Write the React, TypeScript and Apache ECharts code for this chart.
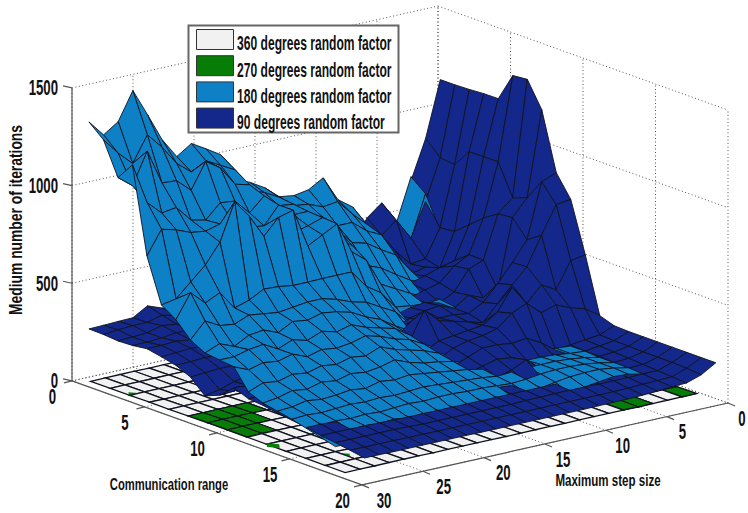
import React, { useEffect, useRef } from "react";
import * as echarts from "echarts";

const rangeValues = [1,2,3,4,5,6,7,8,9,10,11,12,13,14,15,16,17,18,19,20];
const lightRangeValues = [1,2,3,4,5,6,7,8,9,10,11,12,13,14,15,16,17,18];
const stepValues = [1,2.2,3.4,4.6,5.8,7,8.2,9.4,10.6,11.8,13,14.2,15.4,16.6,17.8,19,20.2,21.4,22.6,23.8,25,26.2,27.4,28.6,29.8];
const floorRangeValues = [0.7,2.05,3.4,4.75,6.1,7.45,8.8,10.15,11.5,12.85,14.2,15.55,16.9,18.25];
const floorStepValues = [0.5,1.7,2.9,4.1,5.3,6.5,7.7,8.9,10.1,11.3,12.5,13.7,14.9,16.1,17.3,18.5,19.7,20.9,22.1,23.3,24.5,25.7,26.9,28.1,29.3];

const medianTicks = [0,500,1000,1500];
const rangeTicks = [0,5,10,15,20];
const stepTicks = [0,5,10,15,20,25,30];

const names = ["360 degrees random factor","270 degrees random factor","180 degrees random factor","90 degrees random factor"];

const z180 = [
[500,640,700,480,380,480,613,667,795,751,738,749,812,856,887,1031,1078,1122,1072,1175,1320,1460,1318,1267,1350],
[420,500,640,420,360,440,550,620,700,690,720,730,790,830,860,980,1020,1060,1020,1080,1180,1260,1130,1200,1285],
[350,420,480,330,340,390,523,560,620,620,680,700,780,790,800,930,950,1050,1100,969,1035,1041,1220,1060,1118],
[300,360,420,320,310,350,446,490,540,560,640,680,770,770,760,900,830,907,915,843,860,941,930,1000,1210],
[260,300,340,300,290,310,344,390,440,470,590,640,765,740,720,880,790,800,830,850,830,840,870,890,770],
[230,260,300,280,260,280,282,320,360,400,540,600,760,720,680,880,860,780,900,990,800,700,630,560,546],
[210,230,250,260,250,250,300,290,300,310,400,450,540,540,540,538,538,549,553,513,490,585,549,618,497],
[200,210,220,225,230,230,290,250,240,250,330,370,412,430,460,480,480,470,460,470,480,450,460,500,420],
[190,195,200,205,210,215,200,210,220,220,260,300,350,380,420,440,450,430,440,400,430,420,380,410,380],
[180,185,190,195,200,205,205,210,205,210,240,280,330,350,370,400,380,400,370,390,360,400,390,370,371],
[175,180,180,185,190,195,195,200,200,200,220,260,300,320,350,370,350,340,350,330,360,340,350,330,362],
[170,175,175,180,185,185,190,190,190,190,210,240,270,290,310,340,310,320,300,310,290,300,280,290,260],
[165,165,170,170,175,180,185,185,185,185,200,225,240,250,270,300,280,270,280,260,270,250,260,240,230],
[155,160,165,170,175,185,190,190,190,185,195,210,220,230,240,250,240,250,230,240,230,225,235,220,215],
[150,155,160,165,180,190,195,195,195,190,185,195,200,205,210,215,210,205,210,205,210,205,200,205,200],
[145,150,155,165,180,190,195,195,190,180,175,180,185,185,190,190,185,190,185,180,185,180,185,180,180],
[140,145,150,165,180,190,190,185,175,160,155,155,160,155,160,155,160,165,160,170,165,170,165,165,160],
[130,135,140,160,175,180,170,160,145,140,140,140,135,135,140,135,140,140,140,135,140,135,140,140,140],
];

const z90 = [
[1164,880,680,420,600,540,420,380,350,330,320,310,300,300,300,300,300,300,305,313,341,297,295,292,290],
[1164,807,600,430,538,477,390,350,330,310,300,300,300,300,300,300,300,300,300,300,320,300,300,295,288],
[1167,798,492,350,340,420,360,330,310,300,290,290,290,290,290,290,290,290,290,295,300,310,290,285,282],
[1172,891,500,330,350,330,340,310,300,290,280,280,280,280,280,280,280,280,285,290,300,300,290,285,285],
[1173,892,560,393,375,350,330,300,290,270,270,270,270,270,270,270,270,275,280,285,290,290,300,295,295],
[1318,893,622,451,410,340,320,300,290,270,260,260,255,255,255,255,260,265,270,275,280,285,290,285,280],
[1325,735,670,450,420,320,280,300,290,270,250,250,250,250,250,250,250,250,250,255,260,265,270,265,263],
[1196,762,677,323,300,330,280,310,300,280,250,240,240,240,240,240,240,240,240,240,240,240,240,235,230],
[900,870,590,490,400,320,280,290,290,290,300,240,235,235,235,230,230,230,225,225,220,215,200,175,160],
[790,780,640,495,420,340,260,280,300,320,390,250,230,230,225,225,225,220,220,215,215,210,205,195,190],
[533,520,387,430,350,450,341,290,280,270,260,220,220,215,215,215,210,210,210,210,225,235,245,250,255],
[248,300,321,354,330,395,361,300,280,270,250,210,205,205,205,200,200,200,200,205,210,215,220,225,225],
[223,193,185,175,165,220,260,250,260,260,230,200,195,190,190,190,190,190,190,195,200,205,210,215,218],
[220,190,180,170,168,170,180,190,220,230,210,190,185,180,180,180,180,180,180,185,190,195,200,205,205],
[220,188,175,170,168,165,170,175,236,200,180,175,178,175,175,175,175,175,175,180,185,190,190,195,195],
[220,186,170,165,165,165,165,170,175,170,165,170,172,170,170,170,170,170,170,172,175,178,180,185,185],
[220,185,165,163,160,160,160,165,165,165,165,165,165,165,165,165,165,165,165,165,168,170,170,170,170],
[220,185,160,160,158,158,158,160,160,160,158,158,155,155,155,155,155,155,155,158,160,160,160,160,160],
[220,182,155,152,150,147,146,145,145,145,145,145,145,145,145,145,145,145,145,146,146,147,147,147,148],
[220,175,150,148,142,138,135,135,134,133,133,133,133,133,133,133,133,134,134,134,134,134,134,135,135],
];

const z360 = [
[8,8,7,8,8,9,8,7,8,8,7,8,8,9,8,8,7,8,8,8,7,8,8,7,6],
[8,7,8,8,7,8,8,8,9,8,8,8,7,8,8,9,8,8,7,8,8,8,7,8,7],
[7,8,8,9,8,8,7,8,8,8,9,8,8,8,7,8,8,8,9,8,8,7,8,8,7],
[8,8,7,8,8,8,8,9,8,7,8,8,8,8,9,8,7,8,8,8,9,8,8,7,8],
[8,9,8,8,7,8,8,8,8,8,7,8,9,8,8,8,8,8,7,8,8,8,8,8,7],
[7,8,8,8,8,9,8,7,8,8,8,8,8,7,8,9,8,8,8,7,9,9,9,8,8],
[8,8,9,8,7,8,8,8,8,9,8,7,8,8,8,8,8,9,8,8,9,10,10,10,9],
[8,7,8,8,8,8,9,8,7,8,8,8,8,9,8,7,8,8,8,8,9,10,10,10,9],
[7,8,8,8,9,8,8,8,8,7,8,8,9,8,8,8,8,7,8,8,8,9,10,10,8],
[8,8,7,8,8,8,8,9,8,8,8,7,8,8,8,8,9,8,8,7,8,8,8,8,8],
[8,8,8,9,8,7,8,8,8,8,9,8,8,7,8,8,8,8,9,8,7,8,8,8,7],
[8,9,8,8,8,8,7,8,8,8,8,8,9,8,7,8,8,8,8,8,8,7,8,8,8],
[7,8,8,7,8,8,8,8,9,8,7,8,8,8,8,9,8,7,8,8,8,8,8,8,7],
[8,8,8,8,7,8,8,8,8,7,8,8,8,7,8,8,8,8,7,8,8,8,7,8,7],
];

const cells270 = [[5,20],[5,21],[5,22],[5,23],[6,21],[6,22],[6,23],[7,22],[7,23],[12,0],[12,3],[12,4]];
const specks270 = [[3.5,29],[13.2,29.2],[16.2,27]];

const WHITE = "#f1f1f1", GREEN = "#077d07", LIGHT = "#0e80c6", DARK = "#14288c";

function proj(r: number, s: number, z: number): [number, number] {
  return [438 + 14.5 * r - 12.2 * s, 299 + 5.2 * r + 2.73 * s - 0.1953 * z];
}

type Quad = { pts: [number, number][]; key: number; rank: number; bare?: boolean };

function quads(rs: number[], ss: number[], zz: number[][], only?: number[][]): Quad[] {
  const out: Quad[] = [];
  const idx = only || rs.slice(0, -1).flatMap((_, i) => ss.slice(0, -1).map((_, j) => [i, j]));
  for (const [i, j] of idx) {
    const c = [[i, j], [i + 1, j], [i + 1, j + 1], [i, j + 1]];
    const pts = c.map(([a, b]) => proj(rs[a], ss[b], zz[a][b]));
    const z = c.reduce((t, [a, b]) => t + zz[a][b], 0) / 4;
    const r = (rs[i] + rs[i + 1]) / 2, s = (ss[j] + ss[j + 1]) / 2;
    out.push({ pts, key: r + 1.19 * s + z / 1000, rank: 0 });
  }
  return out;
}

const zGreen = z360.map((row) => row.map((v) => v + 1));
const speckQuads: Quad[] = specks270.map(([r, s]) => ({
  pts: [proj(r - 0.45, s, 9), proj(r, s + 0.5, 9), proj(r + 0.45, s, 9), proj(r, s - 0.5, 9)],
  key: r + 1.19 * s + 0.02, rank: 0, bare: true,
}));
const layers = [
  quads(floorRangeValues, floorStepValues, z360),
  quads(floorRangeValues, floorStepValues, zGreen, cells270).concat(speckQuads),
  quads(lightRangeValues, stepValues, z180),
  quads(rangeValues, stepValues, z90),
];
layers.flat().sort((a, b) => a.key - b.key).forEach((q, i) => { q.rank = i + 10; });

const FONT = '"Liberation Sans",Arial,sans-serif';

function surfaceSeries(k: number, color: string, lw: number) {
  return {
    type: "custom", name: names[k], coordinateSystem: "cartesian2d", clip: false, silent: true,
    itemStyle: { color, borderColor: "#111", borderWidth: 1 },
    encode: { x: 0, y: 1 },
    data: layers[k].map((_, i) => [i, i]),
    renderItem: (_: any, api: any) => {
      const q = layers[k][api.value(0)];
      return {
        type: "polygon", z2: q.rank,
        shape: { points: q.pts.map((p) => api.coord(p)) },
        style: q.bare ? { fill: color } : { fill: color, stroke: "#10131f", lineWidth: lw },
      };
    },
  };
}

type Seg = { a: [number, number]; b: [number, number]; kind: "axis" | "dot" };
const segs: Seg[] = [];
const top = 1500;
segs.push({ a: proj(0, 30, 0), b: proj(0, 30, top), kind: "axis" });
segs.push({ a: proj(0, 30, 0), b: proj(20, 30, 0), kind: "axis" });
segs.push({ a: proj(20, 30, 0), b: proj(20, 0, 0), kind: "axis" });
for (const z of medianTicks) {
  const [x, y] = proj(0, 30, z);
  segs.push({ a: [x, y], b: [x - 9, y - 2], kind: "axis" });
  if (z > 0) {
    segs.push({ a: proj(0, 30, z), b: proj(0, 0, z), kind: "dot" });
    segs.push({ a: proj(0, 0, z), b: proj(20, 0, z), kind: "dot" });
  }
}
segs.push({ a: proj(0, 30, 0), b: proj(0, 0, 0), kind: "dot" });
segs.push({ a: proj(0, 0, 0), b: proj(20, 0, 0), kind: "dot" });
for (const r of rangeTicks) {
  segs.push({ a: proj(r, 0, 0), b: proj(r, 0, top), kind: "dot" });
  segs.push({ a: proj(r, 0, 0), b: proj(r, 30, 0), kind: "dot" });
  const [x, y] = proj(r, 30, 0);
  segs.push({ a: [x, y], b: [x - 8, y + 2], kind: "axis" });
}
for (const s of stepTicks) {
  segs.push({ a: proj(0, s, 0), b: proj(0, s, top), kind: "dot" });
  segs.push({ a: proj(0, s, 0), b: proj(20, s, 0), kind: "dot" });
  const [x, y] = proj(20, s, 0);
  segs.push({ a: [x, y], b: [x + 7, y + 3], kind: "axis" });
}

type Lab = { t: string; x: number; y: number; rot?: number; size?: number; sx?: number; align?: string };
const labels: Lab[] = [];
for (const z of medianTicks) {
  const [x, y] = proj(0, 30, z);
  labels.push({ t: String(z), x: x - 14, y: y, align: "right" });
}
for (const r of rangeTicks) {
  const [x, y] = proj(r, 30, 0);
  labels.push({ t: String(r), x: x - 19.5, y: y + 15.5 });
}
for (const s of stepTicks) {
  const [x, y] = proj(20, s, 0);
  labels.push({ t: String(s), x: x + 14 + (s * 8) / 30, y: y + 15.5 });
}
labels.push({ t: "Communication range", x: 169, y: 484, size: 17, sx: 0.66 });
labels.push({ t: "Maximum step size", x: 608, y: 480, size: 17, sx: 0.68 });
labels.push({ t: "Medium number of iterations", x: 15, y: 220, size: 18, sx: 0.77, rot: Math.PI / 2 });

const swatches = [WHITE, GREEN, LIGHT, DARK];
const legendGraphics: any[] = [
  { type: "rect", z: 100, shape: { x: 188.5, y: 25.5, width: 210, height: 107 }, style: { fill: "#fff", stroke: "#666", lineWidth: 2 } },
  ...names.flatMap((n, i) => [
    { type: "rect", z: 101, shape: { x: 196.5, y: 29.5 + i * 26.2, width: 37, height: 20 }, style: { fill: swatches[i], stroke: "#333", lineWidth: 1 } },
    { type: "text", z: 101, x: 237, y: 43 + i * 26.4, scaleX: 0.62, style: { text: n, fill: "#111", font: `bold 19.5px ${FONT}`, textAlign: "left", textVerticalAlign: "middle", verticalAlign: "middle" } },
  ]),
];

export default function App() {
  const ref = useRef<HTMLDivElement>(null);
  useEffect(() => {
    document.body.style.margin = "0";
    const chart = echarts.init(ref.current!, undefined, { renderer: "svg" });
    chart.setOption({
      animation: false,
      backgroundColor: "#fff",
      grid: { left: 0, right: 0, top: 0, bottom: 0 },
      xAxis: { type: "value", min: 0, max: 748, show: false },
      yAxis: { type: "value", min: 0, max: 513, inverse: true, show: false },
      graphic: { elements: legendGraphics },
      series: [
        {
          type: "custom", name: "box", coordinateSystem: "cartesian2d", z: 1, silent: true, clip: false,
          encode: { x: 0, y: 1 },
          data: segs.map((_, i) => [i, i]),
          renderItem: (_: any, api: any) => {
            const g = segs[api.value(0)];
            const a = api.coord(g.a), b = api.coord(g.b);
            return {
              type: "line",
              shape: { x1: a[0], y1: a[1], x2: b[0], y2: b[1] },
              style: g.kind === "axis"
                ? { stroke: "#555", lineWidth: 1.2 }
                : { stroke: "#555", lineWidth: 1, lineDash: [1, 2.5] },
            };
          },
        },
        surfaceSeries(0, WHITE, 1.3),
        surfaceSeries(1, GREEN, 1.1),
        surfaceSeries(2, LIGHT, 0.9),
        surfaceSeries(3, DARK, 0.9),
        {
          type: "custom", name: "labels", coordinateSystem: "cartesian2d", z: 20, silent: true, clip: false,
          encode: { x: 0, y: 1 },
          data: labels.map((_, i) => [i, i]),
          renderItem: (_: any, api: any) => {
            const l = labels[api.value(0)];
            const p = api.coord([l.x, l.y]);
            return {
              type: "text", x: p[0], y: p[1], scaleX: l.sx ?? 0.6, rotation: l.rot ?? 0,
              style: {
                text: l.t, x: 0, y: 0, fill: "#111",
                font: `bold ${l.size ?? 22}px ${FONT}`,
                textAlign: l.align ?? "center", textVerticalAlign: "middle", verticalAlign: "middle",
              },
            };
          },
        },
      ],
    });
    return () => chart.dispose();
  }, []);
  return <div ref={ref} style={{ width: 748, height: 513 }} />;
}
